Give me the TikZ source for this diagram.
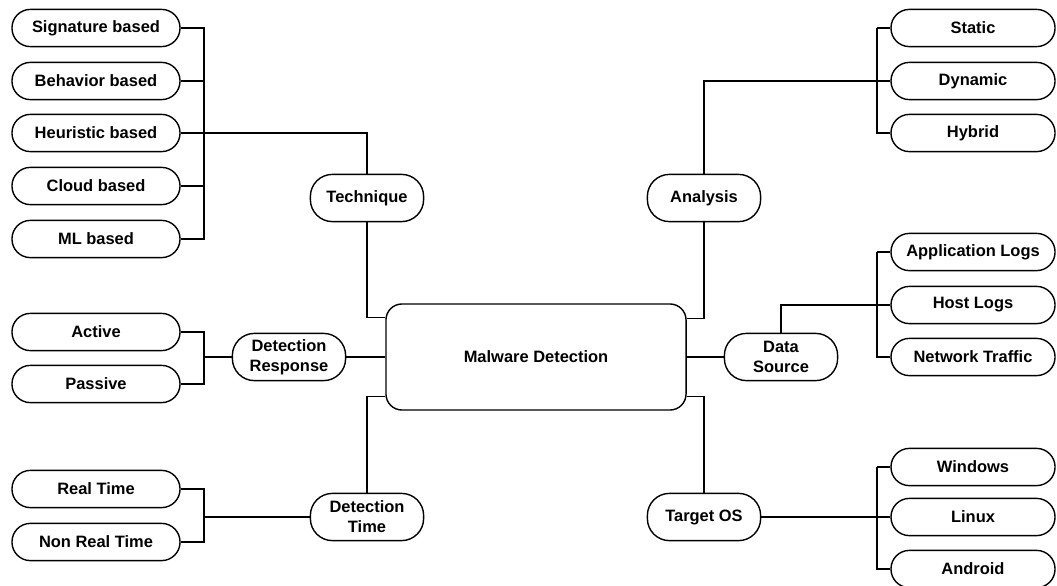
\documentclass[tikz,border=0pt]{standalone}
\usepackage{fontspec}
\setmainfont{Liberation Sans}
\usetikzlibrary{positioning,calc}

\begin{document}
\begin{tikzpicture}[x=0.025cm,y=-0.025cm,
	every node/.style={font=\bfseries\fontsize{11.7}{14.2}\selectfont},
	leaf/.style={draw,line width=1pt,rounded corners=0.46cm,minimum width=4.2cm,minimum height=0.93cm,inner sep=0pt},
	branch/.style={draw,line width=1pt,rounded corners=0.55cm,minimum width=2.83cm,minimum height=1.18cm,inner sep=0pt,align=center},
	link/.style={line width=1pt}]
	\useasboundingbox (0,0) rectangle (1057,585);
	% centre
	\node[draw,line width=1pt,rounded corners=0.4cm,minimum width=7.5cm,minimum height=2.65cm] (main) at (536,357) {Malware Detection};
	% branches
	\node[branch] (tech) at (367,198) {Technique};
	\node[branch] (anal) at (704,198) {Analysis};
	\node[branch] (resp) at (289,357) {Detection\\Response};
	\node[branch] (src) at (781,357) {Data\\Source};
	\node[branch] (time) at (367,517) {Detection\\Time};
	\node[branch] (os) at (704,517) {Target OS};
	% technique leaves
	\node[leaf] (sig) at (96,28) {Signature based};
	\node[leaf] (beh) at (96,81) {Behavior based};
	\node[leaf] (heu) at (96,133) {Heuristic based};
	\node[leaf] (cld) at (96,186) {Cloud based};
	\node[leaf] (ml) at (96,239) {ML based};
	% analysis leaves
	\node[leaf,minimum width=4.1cm] (sta) at (973,28) {Static};
	\node[leaf,minimum width=4.1cm] (dyn) at (973,81) {Dynamic};
	\node[leaf,minimum width=4.1cm] (hyb) at (973,133) {Hybrid};
	% data source leaves
	\node[leaf,minimum width=4.1cm] (app) at (973,252) {Application Logs};
	\node[leaf,minimum width=4.1cm] (host) at (973,305) {Host Logs};
	\node[leaf,minimum width=4.1cm] (net) at (973,357) {Network Traffic};
	% target os leaves
	\node[leaf,minimum width=4.1cm] (win) at (973,467) {Windows};
	\node[leaf,minimum width=4.1cm] (lin) at (973,517) {Linux};
	\node[leaf,minimum width=4.1cm] (andr) at (973,569) {Android};
	% response and time leaves
	\node[leaf] (act) at (96,332) {Active};
	\node[leaf] (pas) at (96,384) {Passive};
	\node[leaf] (rt) at (96,489) {Real Time};
	\node[leaf] (nrt) at (96,542) {Non Real Time};

	\coordinate (lb) at (204,0);
	\coordinate (rb) at (877,0);
	% technique
	\draw[link] (sig.east) -| (lb |- ml.east) -- (ml.east);
	\draw[link] (beh.east) -- (beh.east -| lb);
	\draw[link] (cld.east) -- (cld.east -| lb);
	\draw[link] (heu.east) -| (tech.north);
	\draw[link] (tech.south) |- ([yshift=-0.35cm]main.north west);
	% analysis
	\draw[link] (rb |- sta.west) -- (sta.west);
	\draw[link] (rb |- sta.west) |- (hyb.west);
	\draw[link] (anal.north) |- (dyn.west);
	\draw[link] (anal.south) |- ([yshift=-0.375cm]main.north east);
	% data source
	\draw[link] (rb |- app.west) -- (app.west);
	\draw[link] (rb |- app.west) |- (net.west);
	\draw[link] (src.north) |- (host.west);
	\draw[link] (main.east) -- (src.west);
	% target os
	\draw[link] (rb |- win.west) -- (win.west);
	\draw[link] (rb |- win.west) |- (andr.west);
	\draw[link] (os.east) -- (lin.west);
	\draw[link] ([yshift=0.35cm]main.south east) -| (os.north);
	% response
	\draw[link] (act.east) -| (lb |- pas.east) -- (pas.east);
	\draw[link] (resp.west) -- (resp.west -| lb);
	\draw[link] (resp.east) -- (main.west);
	% time
	\draw[link] (rt.east) -| (lb |- nrt.east) -- (nrt.east);
	\draw[link] (time.west) -- (time.west -| lb);
	\draw[link] (time.north) |- ([yshift=0.35cm]main.south west);
\end{tikzpicture}
\end{document}
